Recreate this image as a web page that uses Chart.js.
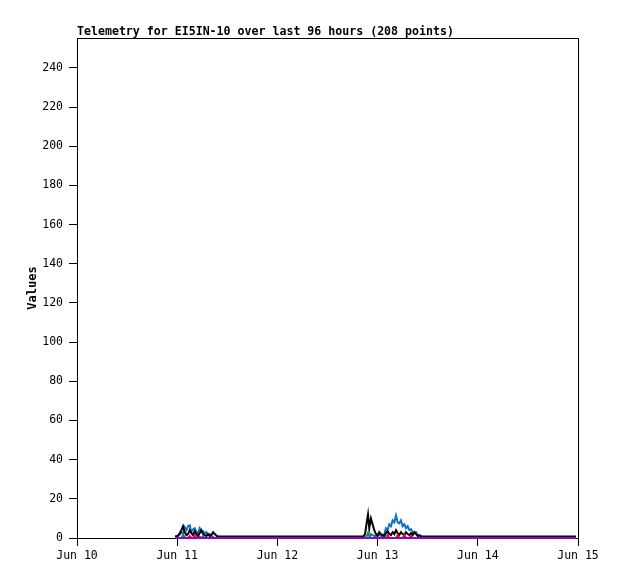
<!DOCTYPE html>
<html>
<head>
<meta charset="utf-8">
<script src="https://cdn.jsdelivr.net/npm/chart.js@4/dist/chart.umd.min.js"></script>
<style>
  html, body { margin: 0; padding: 0; background: #fff; }
  #wrap { width: 618px; height: 579px; }
</style>
</head>
<body>
<div id="wrap"><canvas id="telemetryChart" width="618" height="579"></canvas></div>
<script>
// hours since Jun 10 00:00
const hours = [
  23.5, 24, 24.5, 25, 25.4, 25.8, 26.2, 26.6, 27, 27.4, 27.8, 28.2, 28.6, 29, 29.4, 29.8, 30.2, 30.6, 31, 31.4, 31.8, 32.2, 32.6, 33, 33.5, 34,
  36, 38, 40, 42, 44, 46, 48, 50, 52, 54, 56, 58, 60, 62, 64, 66, 68,
  68.6, 69, 69.4, 69.7, 70, 70.4, 70.8, 71.2, 71.6, 72, 72.4, 72.8, 73.2, 73.6, 74, 74.4, 74.8, 75.2, 75.6, 76, 76.4, 76.8, 77.2, 77.6, 78, 78.4, 78.8, 79.2, 79.6, 80, 80.4, 80.8, 81.2, 81.6, 82, 82.5,
  84, 86, 88, 90, 92, 94, 96, 98, 100, 102, 104, 106, 108, 110, 112, 114, 116, 118, 119.5
];

const blackSeries = [
  0.8, 1, 2, 4, 6, 3, 1.5, 2, 4, 2.5, 1.5, 3.5, 2, 1, 2.5, 4, 2, 1.5, 1, 2, 1, 1.5, 3, 2, 1, 0.8,
  0.8, 0.8, 0.8, 0.8, 0.8, 0.8, 0.8, 0.8, 0.8, 0.8, 0.8, 0.8, 0.8, 0.8, 0.8, 0.8, 0.8,
  0.8, 2, 8, 12, 5, 10, 7, 4, 2, 1, 3, 2, 1.5, 1, 2.5, 3.5, 2, 1.5, 3, 2, 4, 2.5, 1.5, 3, 2, 1.5, 3, 2, 1.5, 2.5, 1.5, 3, 2, 1, 1.5, 0.8,
  0.8, 0.8, 0.8, 0.8, 0.8, 0.8, 0.8, 0.8, 0.8, 0.8, 0.8, 0.8, 0.8, 0.8, 0.8, 0.8, 0.8, 0.8, 0.8
];

const blueSeries = [
  0, 0.5, 1.5, 3, 2, 5.5, 4, 6, 6.5, 3, 4.5, 5, 3, 2.5, 5, 3, 3.5, 2.5, 3, 1.5, 2, 1, 0.5, 0, 0, 0,
  0, 0, 0, 0, 0, 0, 0, 0, 0, 0, 0, 0, 0, 0, 0, 0, 0,
  0, 0, 0, 0, 0, 2, 1.5, 1, 1, 2, 1.5, 1, 1, 2, 5, 4, 7, 6, 9, 8, 11.5, 8, 7.5, 9, 6, 7, 5, 6, 4, 4.5, 3, 2.5, 3, 1.5, 1, 0,
  0, 0, 0, 0, 0, 0, 0, 0, 0, 0, 0, 0, 0, 0, 0, 0, 0, 0, 0
];

const greenSeries = [
  0, 0, 0, 0, 1.5, 0.5, 0, 0, 0, 0, 0, 0, 0, 0, 0, 0, 1, 0, 0, 0, 0, 0, 0, 0, 0, 0,
  0, 0, 0, 0, 0, 0, 0, 0, 0, 0, 0, 0, 0, 0, 0, 0, 0,
  0, 0, 1, 2.5, 1, 0, 0, 0, 0, 0, 0, 0, 0, 0, 0, 0, 0, 0, 0, 0, 0, 0, 0, 0, 0, 0, 0, 0, 0, 0, 0, 0, 0, 0, 0, 0,
  0, 0, 0, 0, 0, 0, 0, 0, 0, 0, 0, 0, 0, 0, 0, 0, 0, 0, 0
];

const redSeries = [
  0, 0, 0, 0, 0, 0, 0, 0, 1, 0, 0, 1.5, 0, 0, 0.5, 0, 0, 0, 0, 0, 0, 0, 0, 0, 0, 0,
  0, 0, 0, 0, 0, 0, 0, 0, 0, 0, 0, 0, 0, 0, 0, 0, 0,
  0, 0, 0, 0, 0, 0, 0, 0, 0, 0, 0, 0, 0, 0, 0, 1.5, 0, 0, 0, 0, 0, 1.5, 0, 0, 0, 1.5, 0, 0, 0, 1, 0, 0, 0, 0, 0, 0,
  0, 0, 0, 0, 0, 0, 0, 0, 0, 0, 0, 0, 0, 0, 0, 0, 0, 0, 0
];

const purpleSeries = [
  0, 0, 0, 0, 0, 0, 0, 0, 0, 0, 0, 0, 0, 0, 0, 0, 0, 0, 0, 0, 0, 0, 0, 0, 0, 0,
  0, 0, 0, 0, 0, 0, 0, 0, 0, 0, 0, 0, 0, 0, 0, 0, 0,
  0, 0, 0, 0, 0, 0, 0, 0, 0, 0, 0, 0, 0, 0, 0, 0, 0, 0, 0, 0, 0, 0, 0, 0, 0, 0, 0, 0, 0, 0, 0, 0, 0, 0, 0, 0,
  0, 0, 0, 0, 0, 0, 0, 0, 0, 0, 0, 0, 0, 0, 0, 0, 0, 0, 0
];

const dayTicks = [0, 24, 48, 72, 96, 120];
const dayLabels = ["Jun 10", "Jun 11", "Jun 12", "Jun 13", "Jun 14", "Jun 15"];
const yTicks = [0, 20, 40, 60, 80, 100, 120, 140, 160, 180, 200, 220, 240];

const chartTitle = "Telemetry for EI5IN-10 over last 96 hours (208 points)";
const monoFont = "'DejaVu Sans Mono', 'Liberation Mono', monospace";

const toPoints = (vals) => vals.map((v, i) => ({ x: hours[i], y: v }));

const line = (label, vals, color) => ({
  label,
  data: toPoints(vals),
  borderColor: color,
  backgroundColor: color,
  borderWidth: 2,
  pointRadius: 0,
  tension: 0,
  fill: false,
  clip: 3
});

// frame on top/right plus the title, gnuplot style
const framePlugin = {
  id: "frame",
  afterDraw(chart) {
    const { ctx, chartArea: a } = chart;
    ctx.save();
    ctx.strokeStyle = "#000";
    ctx.lineWidth = 1;
    ctx.beginPath();
    ctx.moveTo(a.left, a.top + 0.5);
    ctx.lineTo(a.right + 0.5, a.top + 0.5);
    ctx.lineTo(a.right + 0.5, a.bottom);
    ctx.stroke();
    ctx.fillStyle = "#000";
    ctx.font = "bold 11.6px " + monoFont;
    ctx.textBaseline = "alphabetic";
    ctx.textAlign = "left";
    ctx.fillText(chartTitle, a.left, 35);
    ctx.restore();
  }
};

new Chart(document.getElementById("telemetryChart"), {
  type: "line",
  data: {
    datasets: [
      line("purple", purpleSeries, "#9400d3"),
      line("red", redSeries, "#ee1010"),
      line("green", greenSeries, "#00a040"),
      line("black", blackSeries, "#000000"),
      line("blue", blueSeries, "#1070d0")
    ]
  },
  options: {
    responsive: false,
    animation: false,
    layout: { padding: { left: 0, right: 40, top: 38, bottom: 0 } },
    plugins: {
      legend: { display: false },
      tooltip: { enabled: false },
      title: { display: false }
    },
    scales: {
      x: {
        type: "linear",
        min: 0,
        max: 120,
        afterBuildTicks: (axis) => { axis.ticks = dayTicks.map((v) => ({ value: v })); },
        afterFit: (axis) => { axis.height = 41; },
        ticks: {
          color: "#000",
          font: { family: monoFont, size: 11.5 },
          padding: 3,
          maxRotation: 0,
          autoSkip: false,
          callback: (v) => dayLabels[dayTicks.indexOf(v)]
        },
        grid: { drawOnChartArea: false, drawTicks: true, tickLength: 8, tickColor: "#000" },
        border: { color: "#000", width: 1 }
      },
      y: {
        min: 0,
        max: 255.3,
        afterBuildTicks: (axis) => { axis.ticks = yTicks.map((v) => ({ value: v })); },
        afterFit: (axis) => { axis.width = 77; },
        ticks: {
          color: "#000",
          font: { family: monoFont, size: 11.5 },
          padding: 6,
          autoSkip: false
        },
        grid: { drawOnChartArea: false, drawTicks: true, tickLength: 8, tickColor: "#000" },
        border: { color: "#000", width: 1 },
        title: {
          display: true,
          text: "Values",
          color: "#000",
          font: { family: monoFont, size: 12, weight: "bold" },
          padding: { top: 26, bottom: 0 }
        }
      }
    }
  },
  plugins: [framePlugin]
});
</script>
</body>
</html>
